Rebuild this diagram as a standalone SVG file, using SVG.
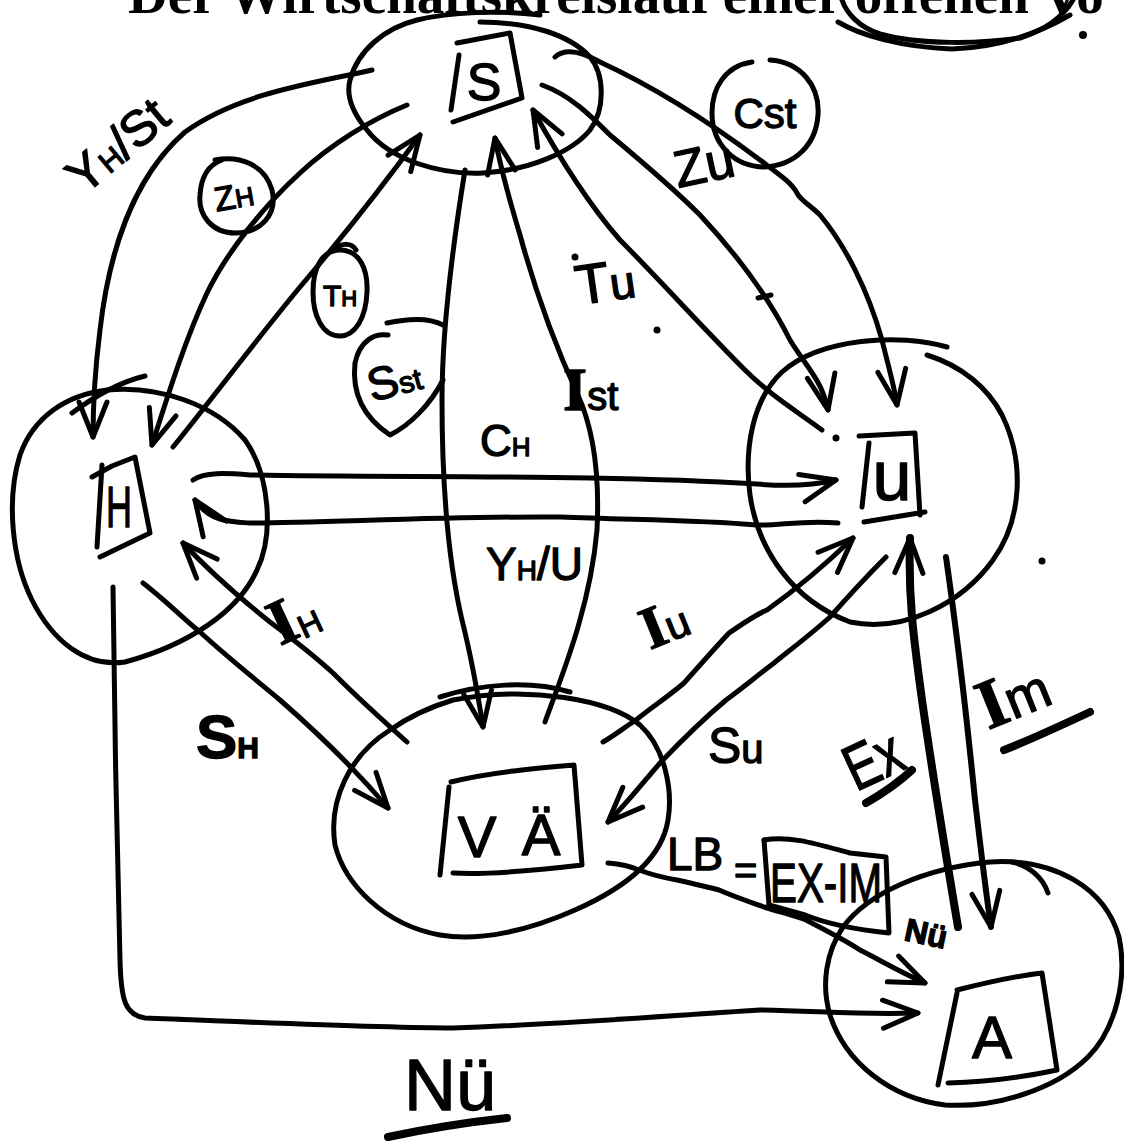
<svg xmlns="http://www.w3.org/2000/svg" width="1124" height="1142" viewBox="0 0 1124 1142">
<style>
.ln{fill:none;stroke:#000;stroke-width:5;stroke-linecap:round;stroke-linejoin:round}
.thick{stroke-width:8}
.ul{fill:none;stroke:#000;stroke-width:8;stroke-linecap:round}
.hw{font-family:'Liberation Sans','DejaVu Sans',sans-serif;fill:#000;stroke:#000;stroke-width:1.3;stroke-linejoin:round}
.sf{font-family:'Liberation Serif','DejaVu Serif',serif;font-weight:bold}
.title{font-family:'Liberation Serif','DejaVu Serif',serif;font-weight:bold;font-size:55px;fill:#000}
.dot{fill:#000}
</style>
<defs>
<marker id="ah" viewBox="-40 -20 44 40" refX="0" refY="0" markerWidth="44" markerHeight="40" markerUnits="userSpaceOnUse" orient="auto" overflow="visible">
<path d="M-35,-14 L0,0 L-35,14" fill="none" stroke="#000" stroke-width="5" stroke-linecap="round" stroke-linejoin="round"/>
</marker>
</defs>
<rect width="1124" height="1142" fill="#fff"/>

<g id="title">
<text class="title" x="128" y="13">Der Wirtschaftskreislauf einer offenen Vo</text>
<path class="ln" d="M842,0 C846,12 858,27 880,34 C920,45 980,44 1020,38 C1045,30 1063,17 1073,0"/>
<path class="ln" d="M838,22 C860,35 900,47 952,49 C990,48 1030,38 1070,15"/>
<circle class="dot" cx="1083" cy="35" r="4"/>
</g>

<g id="node-S">
<path class="ln" d="M480,22 C530,22 570,35 590,57 C605,75 605,110 590,130 C572,152 530,170 483,173 C440,175 390,160 367,130 C352,112 346,95 350,80 C358,50 385,28 417,20 C450,12 500,10 540,15"/>
<path class="ln" d="M457,43 L510,33 L522,98 L453,122"/>
<path class="ln" d="M459,55 L451,110"/>
<text class="hw" x="484" y="100" font-size="52" text-anchor="middle">S</text>
</g>

<g id="node-H">
<path class="ln" d="M107,390 C160,385 215,405 245,440 C270,475 274,535 257,570 C238,612 188,645 125,662 C85,668 52,640 32,600 C12,560 6,500 20,455 C33,418 65,395 107,390 Z"/>
<path class="ln" d="M72,413 C95,396 120,382 145,376"/>
<path class="ln" d="M92,477 L112,466 L135,457 L150,533 L100,557"/>
<path class="ln" d="M102,465 L97,547"/>
<text class="hw" x="106" y="527" font-size="58" textLength="26" lengthAdjust="spacingAndGlyphs">H</text>
</g>

<g id="node-U">
<path class="ln" d="M947,347 C900,333 820,338 782,372 C752,400 744,450 750,495 C758,550 792,600 850,622 C905,633 962,603 993,560 C1022,520 1025,462 1002,415 C988,388 962,366 927,355"/>
<path class="ln" d="M859,436 L915,433 L920,515"/>
<path class="ln" d="M925,512 L864,522"/>
<path class="ln" d="M869,443 L862,507"/>
<text class="hw" x="892" y="500" font-size="70" text-anchor="middle">u</text>
</g>

<g id="node-VA">
<path class="ln" d="M453,700 C530,685 610,700 640,725 C665,748 673,790 668,820 C662,858 625,888 575,910 C530,930 480,942 440,935 C385,925 345,885 335,845 C328,800 350,755 390,730 C410,716 430,707 453,700 Z"/>
<path class="ln" d="M440,697 C480,684 530,680 570,692"/>
<path class="ln" d="M451,782 C490,772 540,768 574,765 L582,865 C540,870 490,875 453,873"/>
<path class="ln" d="M449,787 L440,875"/>
<text class="hw" x="477" y="857" font-size="58" text-anchor="middle">V</text>
<text class="hw" x="541" y="855" font-size="58" text-anchor="middle">Ä</text>
</g>

<g id="node-A">
<path class="ln" d="M843,927 C868,893 925,868 990,862 C1055,858 1105,888 1119,937 C1128,980 1115,1030 1088,1057 C1055,1090 995,1108 945,1105 C890,1098 845,1062 830,1015 C821,985 826,952 843,927 Z"/>
<path class="ln" d="M1012,862 C1030,866 1043,878 1048,893"/>
<path class="ln" d="M957,990 C985,983 1015,976 1042,973 L1057,1070 C1020,1078 985,1082 948,1083"/>
<path class="ln" d="M957,993 L938,1085"/>
<text class="hw" x="992" y="1058" font-size="60" text-anchor="middle">A</text>
</g>

<g id="connectors">
<path id="c-YHSt" class="ln" marker-end="url(#ah)" d="M372,70 C320,82 240,92 185,132 C130,180 108,260 100,330 C95,370 93,405 93,437"/>
<path id="c-ZH" class="ln" marker-end="url(#ah)" d="M407,105 C370,120 330,145 300,173 C265,205 228,250 207,293 C185,340 168,395 152,445"/>
<path id="c-TH" class="ln" marker-end="url(#ah)" d="M173,447 C215,395 260,335 300,287 C340,240 380,190 420,135"/>
<path id="c-SSt" class="ln" marker-end="url(#ah)" d="M465,170 C452,250 442,330 442,400 C442,480 448,560 462,620 C472,660 478,695 483,727"/>
<path id="c-ISt" class="ln" marker-end="url(#ah)" d="M545,722 C560,680 590,610 597,530 C600,470 592,425 577,393 C555,345 535,290 520,235 C508,195 500,165 495,138"/>
<path id="c-Tu" class="ln" marker-end="url(#ah)" d="M822,430 C795,410 770,395 745,370 C700,325 660,280 620,240 C585,200 555,150 533,110"/>
<path id="c-Zu" class="ln" marker-end="url(#ah)" d="M542,85 C570,95 590,115 610,135 C640,160 670,185 700,215 C740,258 770,300 790,340 C805,365 822,380 828,410"/>
<path id="c-CSt" class="ln" marker-end="url(#ah)" d="M555,57 C565,48 582,52 600,62 C650,85 700,115 760,160 C780,175 792,183 797,193 C800,200 810,205 820,215 C845,245 868,290 882,340 C888,365 894,385 897,405"/>
<path id="c-CH" class="ln" marker-end="url(#ah)" d="M193,480 C205,472 225,473 250,475 C400,478 600,474 757,484 C790,487 815,485 836,480"/>
<path id="c-YHU" class="ln" marker-end="url(#ah)" d="M838,523 C800,520 780,526 757,525 C700,520 640,520 560,517 C450,516 320,523 250,523 C230,522 210,522 195,500"/>
<path id="c-IH" class="ln" marker-end="url(#ah)" d="M407,742 C380,718 355,695 333,673 C310,652 290,637 270,622 C240,598 210,572 183,543"/>
<path id="c-SH" class="ln" marker-end="url(#ah)" d="M143,583 C165,600 185,620 200,632 C225,655 250,675 280,700 C320,735 360,775 388,808"/>
<path id="c-Iu" class="ln" marker-end="url(#ah)" d="M603,742 C615,735 625,727 636,720 C655,705 670,695 684,683 C700,665 715,648 729,633 C745,622 755,615 767,610 C795,590 825,565 853,538"/>
<path id="c-Su" class="ln" marker-end="url(#ah)" d="M886,557 C865,578 845,600 830,617 C810,635 790,650 774,663 C758,675 740,690 726,700 C700,722 680,742 660,763 C645,780 630,800 608,822"/>
<path id="c-Ex" class="ln thick" marker-end="url(#ah)" d="M958,927 C945,850 932,770 922,700 C914,640 908,600 910,538"/>
<path id="c-Im" class="ln" marker-end="url(#ah)" style="stroke-width:6" d="M946,557 C955,620 965,700 975,800 C982,860 987,900 991,927"/>
<path id="c-LB" class="ln" marker-end="url(#ah)" d="M608,863 C620,864 630,866 639,870 C655,876 665,878 677,880 C695,884 708,887 719,890 C735,897 750,902 764,907 C780,912 795,916 806,920 C825,930 845,940 860,950 C880,960 900,972 925,983"/>
<path id="c-Nu" class="ln" marker-end="url(#ah)" d="M113,587 C114,700 117,850 120,960 C121,1000 125,1015 145,1018 C250,1022 380,1028 453,1028 C550,1025 650,1017 760,1010 C820,1011 860,1015 918,1013"/>
<path class="ln" d="M758,298 L771,295"/>
<circle class="dot" cx="575" cy="257" r="3.5"/>
<circle class="dot" cx="657" cy="330" r="3.5"/>
<circle class="dot" cx="836" cy="438" r="3.5"/>
<circle class="dot" cx="1042" cy="561" r="3.5"/>
</g>

<g id="labels" class="hw">
<text transform="translate(84,196) rotate(-40)" font-size="50">Y<tspan font-size="30">H</tspan>/St</text>
<path class="ln" d="M215,160 C240,155 265,165 272,190 C278,215 260,233 235,233 C212,233 198,215 200,195 C201,178 208,165 222,160"/>
<text transform="translate(236,208) rotate(-10)" font-size="34" text-anchor="middle">Z<tspan font-size="26">H</tspan></text>
<path class="ln" d="M340,250 C360,250 368,270 367,292 C366,318 355,336 340,336 C322,336 313,315 313,292 C313,268 322,250 340,250 Z"/>
<path class="ln" d="M333,250 C343,242 352,243 356,250"/>
<text x="340" y="306" font-size="30" text-anchor="middle">T<tspan font-size="22">H</tspan></text>
<path class="ln" d="M387,323 C410,318 430,318 443,325"/>
<path class="ln" d="M388,335 C375,333 360,340 355,363 C352,390 360,415 390,435 C410,425 430,405 443,380"/>
<text transform="translate(372,402) rotate(-15)" font-size="46">S<tspan font-size="30">st</tspan></text>
<text x="480" y="456" font-size="44">C<tspan font-size="26">H</tspan></text>
<text x="486" y="580" font-size="46">Y<tspan font-size="28">H</tspan>/U</text>
<text x="563" y="410"><tspan class="sf" font-size="62">I</tspan><tspan font-size="40">st</tspan></text>
<text transform="translate(578,305) rotate(-8)" font-size="56">T<tspan font-size="46">u</tspan></text>
<text transform="translate(678,188) rotate(-12)" font-size="52">Zu</text>
<path class="ln" d="M770,60 C800,62 820,85 818,115 C816,145 795,165 765,167 C735,167 712,145 712,113 C712,88 725,66 752,62"/>
<text x="765" y="128" font-size="42" text-anchor="middle">Cst</text>
<text transform="translate(280,646) rotate(-25)"><tspan class="sf" font-size="64">I</tspan><tspan font-size="32" dy="4">H</tspan></text>
<text x="196" y="758" font-weight="bold"><tspan font-size="62">S</tspan><tspan font-size="30">H</tspan></text>
<text transform="translate(650,650) rotate(-22)"><tspan class="sf" font-size="60">I</tspan><tspan font-size="42">u</tspan></text>
<text x="708" y="763" font-size="50">S<tspan font-size="40">u</tspan></text>
<text transform="translate(856,792) rotate(-25)" font-size="64" textLength="58" lengthAdjust="spacingAndGlyphs">Ex</text>
<path class="ul" d="M866,803 C880,795 898,783 912,770"/>
<text transform="translate(988,730) rotate(-22)"><tspan class="sf" font-size="70">I</tspan><tspan font-size="54">m</tspan></text>
<path class="ul" d="M1004,750 C1030,740 1060,726 1090,712"/>
<text x="667" y="870" font-size="46">LB</text>
<text x="734" y="884" font-size="40">=</text>
<path class="ln" d="M764,840 C790,835 820,845 850,853 L886,857 L889,933 C860,930 830,925 805,915 L769,905"/>
<path class="ln" d="M764,840 L769,905"/>
<text x="770" y="902" font-size="56" textLength="112" lengthAdjust="spacingAndGlyphs">EX-IM</text>
<text transform="translate(903,940) rotate(12)" font-size="32" font-weight="bold">Nü</text>
<text x="404" y="1110" font-size="72">Nü</text>
<path class="ul" d="M388,1137 C430,1128 470,1122 507,1118"/>
</g>
</svg>
